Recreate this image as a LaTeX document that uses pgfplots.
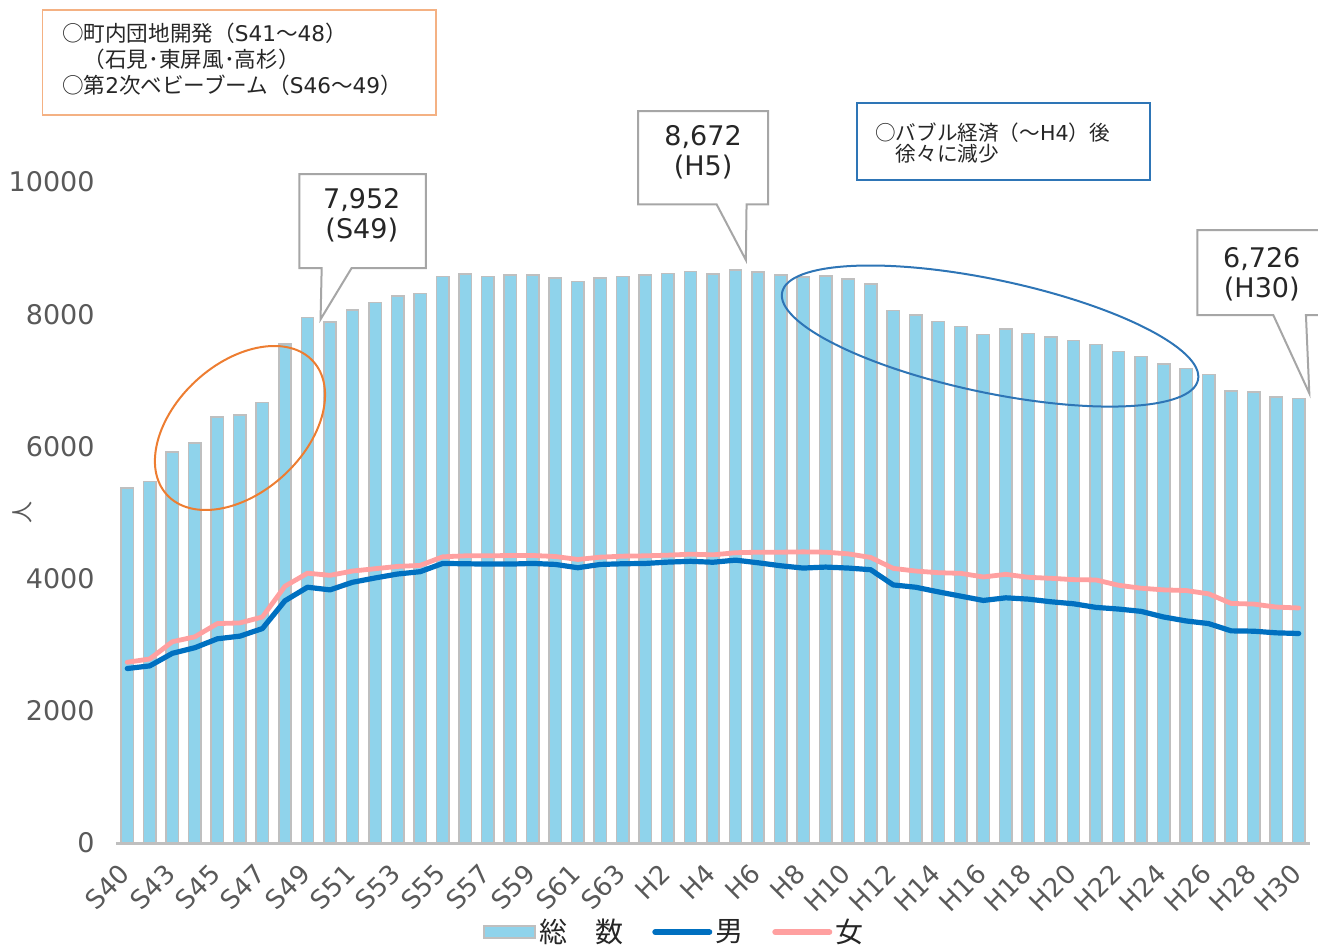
\documentclass[border=0pt]{standalone}
\usepackage{fontspec}
\setmainfont{DejaVu Sans}
\newfontfamily\jp{Noto Sans CJK JP}
\usepackage{pgfplots}
\pgfplotsset{compat=1.18}
\usepackage{pgfplotstable}

\definecolor{barfill}{RGB}{143,211,235}
\definecolor{baredge}{RGB}{191,191,191}
\definecolor{maleblue}{RGB}{0,112,192}
\definecolor{femalepink}{RGB}{255,160,160}
\definecolor{ticktext}{RGB}{89,89,89}
\definecolor{callgray}{RGB}{166,166,166}
\definecolor{ellorange}{RGB}{237,125,49}
\definecolor{boxorange}{RGB}{244,177,131}
\definecolor{ellblue}{RGB}{46,117,182}
\definecolor{txt}{RGB}{38,38,38}

\pgfplotstableread{
x T M F
0 5370 2640 2735
1 5470 2680 2785
2 5915 2870 3045
3 6050 2955 3120
4 6445 3090 3320
5 6475 3130 3330
6 6665 3245 3420
7 7550 3665 3885
8 7952 3870 4082
9 7880 3830 4050
10 8065 3945 4115
11 8180 4010 4150
12 8275 4070 4185
13 8315 4105 4200
14 8570 4230 4330
15 8605 4225 4345
16 8570 4220 4345
17 8590 4220 4350
18 8590 4230 4350
19 8545 4215 4335
20 8495 4165 4290
21 8545 4215 4325
22 8570 4225 4340
23 8590 4230 4345
24 8620 4250 4355
25 8645 4262 4370
26 8605 4248 4360
27 8672 4280 4392
28 8640 4240 4400
29 8595 4195 4400
30 8565 4160 4405
31 8575 4175 4400
32 8535 4160 4375
33 8455 4135 4320
34 8060 3905 4155
35 7985 3870 4115
36 7890 3800 4090
37 7815 3735 4080
38 7695 3670 4025
39 7775 3710 4065
40 7710 3690 4020
41 7655 3650 4005
42 7605 3620 3985
43 7545 3565 3980
44 7440 3540 3900
45 7360 3505 3855
46 7250 3420 3830
47 7180 3360 3820
48 7090 3320 3770
49 6835 3210 3625
50 6820 3205 3615
51 6750 3180 3570
52 6726 3170 3556
}\popdata

\begin{document}
\begin{tikzpicture}
\begin{axis}[
  scale only axis, width=597pt, height=330.5pt,
  xmin=-0.5, xmax=52.5, ymin=0, ymax=10000,
  clip=false,
  axis x line*=bottom, axis y line*=left,
  x axis line style={draw=baredge, line width=1.5pt, -},
  y axis line style={draw=none},
  major tick length=0pt, tick style={draw=none},
  xtick={0,2,...,52},
  xticklabels={S40,S43,S45,S47,S49,S51,S53,S55,S57,S59,S61,S63,H2,H4,H6,H8,H10,H12,H14,H16,H18,H20,H22,H24,H26,H28,H30},
  ytick={0,2000,4000,6000,8000,10000},
  scaled y ticks=false,
  /pgf/number format/1000 sep={},
  /pgf/number format/assume math mode=true,
  x tick label style={yshift=-13pt, xshift=-1pt, rotate=45, anchor=east, inner sep=0pt, font=\fontsize{13}{13}\selectfont, text=ticktext},
  y tick label style={anchor=east, inner sep=0pt, xshift=-10.5pt, font=\fontsize{13.5}{13.5}\selectfont, text=ticktext},
  ylabel={\jp 人},
  ylabel style={at={(axis description cs:-0.0787,0.5)}, anchor=center, rotate=0, font=\fontsize{11}{11}\selectfont, text=ticktext},
  legend style={at={(axis description cs:0.468,-0.1347)}, anchor=center, draw=none, fill=none,
    font=\jp\fontsize{14}{14}\selectfont, text=txt, inner sep=0pt,
    nodes={inner sep=1.5pt},
    /tikz/every even column/.append style={column sep=13pt}},
  legend columns=-1,
]
\addplot[ybar, bar width=0.55, fill=barfill, draw=baredge, line width=0.75pt,
  legend image code/.code={\draw[fill=barfill, draw=baredge, line width=1pt] (0pt,-2.8pt) rectangle (25.5pt,2.8pt);}]
  table[x=x, y=T]{\popdata};
\addlegendentry{総　数}
\addplot[maleblue, line width=2.6pt, line join=round, line cap=round, no marks,
  legend image code/.code={\draw[maleblue, line width=3pt, line cap=round] (0pt,0pt) -- (27pt,0pt);}]
  table[x=x, y=M]{\popdata};
\addlegendentry{男}
\addplot[femalepink, line width=2.4pt, line join=round, line cap=round, no marks,
  legend image code/.code={\draw[femalepink, line width=3pt, line cap=round] (0pt,0pt) -- (27pt,0pt);}]
  table[x=x, y=F]{\popdata};
\addlegendentry{女}

% ellipses
\draw[ellorange, line width=1pt] (axis cs:5.004,6279) circle [x radius=49.5pt, y radius=32.25pt, rotate=42.4];
\draw[ellblue, line width=1pt] (axis cs:38.30,7670) circle [x radius=106.25pt, y radius=28.25pt, rotate=-11.9];

% callouts
\draw[callgray, line width=1pt, fill=white] (axis cs:7.64,10121) -- (axis cs:13.26,10121) -- (axis cs:13.26,8699) -- (axis cs:9.96,8699) -- (axis cs:8.58,7923) -- (axis cs:8.63,8699) -- (axis cs:7.64,8699) -- cycle;
\node[align=center, text=txt, font=\fontsize{13.5}{15}\selectfont] at (axis cs:10.41,9501) {7,952\\(S49)};

\draw[callgray, line width=1pt, fill=white] (axis cs:22.68,11074) -- (axis cs:28.45,11074) -- (axis cs:28.45,9663) -- (axis cs:27.49,9663) -- (axis cs:27.46,8820) -- (axis cs:26.16,9663) -- (axis cs:22.68,9663) -- cycle;
\node[align=center, text=txt, font=\fontsize{13.5}{15}\selectfont] at (axis cs:25.56,10450) {8,672\\(H5)};

\draw[callgray, line width=1pt, fill=white] (axis cs:47.5,9274) -- (axis cs:53.1,9274) -- (axis cs:53.1,7988) -- (axis cs:52.32,7988) -- (axis cs:52.47,6804) -- (axis cs:50.87,7988) -- (axis cs:47.5,7988) -- cycle;
\node[align=center, text=txt, font=\fontsize{13.5}{15}\selectfont] at (axis cs:50.36,8600) {6,726\\(H30)};

% text boxes
\draw[boxorange, line width=0.8pt, fill=white] (axis cs:-3.754,12602) rectangle (axis cs:13.70,11014);
\node[anchor=west, align=left, text=txt, inner sep=0pt, font=\fontsize{10.8}{13}\selectfont] at (axis cs:-2.91,11861)
  {{\jp ○町内団地開発（}S41{\jp ～}48{\jp ）}\\{\jp 　（石見･東屏風･高杉）}\\{\jp ○第}2{\jp 次ベビーブーム（}S46{\jp ～}49{\jp ）}};

\draw[ellblue, line width=1pt, fill=white] (axis cs:32.38,11191) rectangle (axis cs:45.40,10031);
\node[anchor=west, align=left, text=txt, inner sep=0pt, font=\fontsize{10.3}{10.5}\selectfont] at (axis cs:33.19,10586)
  {{\jp ○バブル経済（～}H4{\jp ）後}\\{\jp 　徐々に減少}};

\coordinate (bbsw) at (axis cs:-5.649,-1543);
\coordinate (bbne) at (axis cs:52.856,12754);
\end{axis}
\pgfresetboundingbox
\path[use as bounding box] (bbsw) rectangle (bbne);
\end{tikzpicture}
\end{document}
